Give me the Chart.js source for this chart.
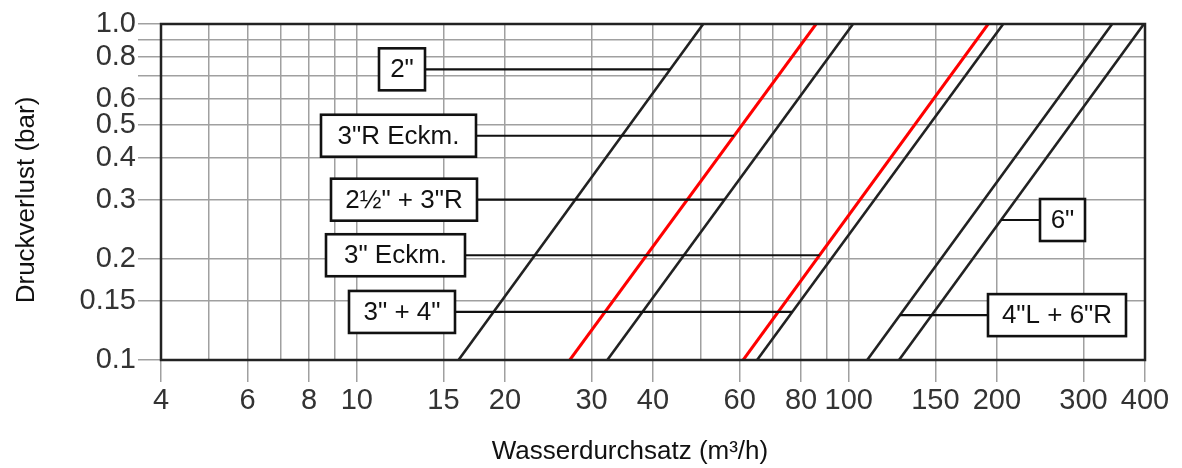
<!DOCTYPE html>
<html>
<head>
<meta charset="utf-8">
<script src="https://cdn.jsdelivr.net/npm/chart.js@4.4.1/dist/chart.umd.min.js"></script>
<style>
  html, body { margin: 0; padding: 0; background: #fff; }
</style>
</head>
<body>
<canvas id="chart" width="1182" height="468"></canvas>
<script>
// Pipe sizes, in the order the lines appear from left to right
const seriesNames = ['2"', '3"R Eckm.', '2½" + 3"R', '3" Eckm.', '3" + 4"', '4"L + 6"R', '6"'];
// flow (m³/h) where each line meets 0.1 bar and 1.0 bar
const flowAtLow = [16.1, 27.1, 32.3, 61.0, 65.1, 109, 126.5];
const flowAtHigh = [50.6, 85.8, 102, 192, 206, 343, 398];
const pressureRange = [0.1, 1.0];
const seriesColors = ['#222', '#f00', '#222', '#f00', '#222', '#222', '#222'];

// grid and tick labels
const xGrid = [4, 5, 6, 7, 8, 9, 10, 15, 20, 30, 40, 50, 60, 70, 80, 90, 100, 150, 200, 300, 400];
const xLabels = [4, 6, 8, 10, 15, 20, 30, 40, 60, 80, 100, 150, 200, 300, 400];
const yGrid = [0.1, 0.15, 0.2, 0.3, 0.4, 0.5, 0.6, 0.7, 0.8, 0.9, 1.0];
const yLabels = [0.1, 0.15, 0.2, 0.3, 0.4, 0.5, 0.6, 0.8, 1.0];

// label boxes: which line, pressure of the leader, box left edge / width in px
const callouts = [
  { series: 0, at: 0.733, left: 379, width: 46 },
  { series: 1, at: 0.465, left: 321, width: 155 },
  { series: 2, at: 0.30, left: 331, width: 146 },
  { series: 3, at: 0.205, left: 326, width: 139 },
  { series: 4, at: 0.139, left: 349, width: 106 },
  { series: 6, at: 0.261, left: 1040, width: 45 },
  { series: 5, at: 0.136, left: 988, width: 138 }
];

const GRID = '#a0a0a0';
const FONT = '"Liberation Sans", Arial, sans-serif';

const datasets = seriesNames.map((name, i) => ({
  label: name,
  data: [
    { x: flowAtLow[i], y: pressureRange[0] },
    { x: flowAtHigh[i], y: pressureRange[1] }
  ],
  borderColor: seriesColors[i],
  borderWidth: seriesColors[i] === '#f00' ? 3 : 2.6,
  pointRadius: 0,
  fill: false
}));

const overlay = {
  id: 'overlay',
  afterDatasetsDraw(chart) {
    const { ctx, chartArea: a, scales: { x, y } } = chart;
    ctx.save();
    ctx.strokeStyle = '#222';
    ctx.lineWidth = 2.5;
    ctx.strokeRect(a.left, a.top, a.right - a.left, a.bottom - a.top);

    const lp0 = Math.log10(pressureRange[0]), lp1 = Math.log10(pressureRange[1]);
    ctx.font = '26px ' + FONT;
    ctx.textAlign = 'center';
    ctx.textBaseline = 'middle';
    callouts.forEach(c => {
      const t = (Math.log10(c.at) - lp0) / (lp1 - lp0);
      const l0 = Math.log10(flowAtLow[c.series]), l1 = Math.log10(flowAtHigh[c.series]);
      const px = x.getPixelForValue(Math.pow(10, l0 + t * (l1 - l0)));
      const py = y.getPixelForValue(c.at);
      const bh = 42;
      const edge = c.left > px ? c.left : c.left + c.width;
      ctx.strokeStyle = '#111';
      ctx.lineWidth = 2.2;
      ctx.beginPath();
      ctx.moveTo(edge, py);
      ctx.lineTo(px, py);
      ctx.stroke();
      ctx.fillStyle = '#fff';
      ctx.fillRect(c.left, py - bh / 2, c.width, bh);
      ctx.lineWidth = 2.6;
      ctx.strokeRect(c.left, py - bh / 2, c.width, bh);
      ctx.fillStyle = '#111';
      ctx.fillText(seriesNames[c.series], c.left + c.width / 2, py + 1);
    });

    // axis titles
    ctx.font = '26px ' + FONT;
    ctx.fillStyle = '#111';
    ctx.fillText('Wasserdurchsatz (m³/h)', 630, 452);
    ctx.translate(27, 200);
    ctx.rotate(-Math.PI / 2);
    ctx.fillText('Druckverlust (bar)', 0, 0);
    ctx.restore();
  }
};

new Chart(document.getElementById('chart').getContext('2d'), {
  type: 'line',
  data: { datasets },
  options: {
    responsive: false,
    animation: false,
    layout: { padding: { left: 0, top: 24, right: 37, bottom: 0 } },
    plugins: { legend: { display: false }, tooltip: { enabled: false } },
    scales: {
      x: {
        type: 'logarithmic',
        min: 4,
        max: 400,
        afterBuildTicks: s => { s.ticks = xGrid.map(v => ({ value: v })); },
        afterFit: s => { s.height = 108; },
        ticks: {
          autoSkip: false,
          maxRotation: 0,
          padding: 2,
          color: '#333',
          font: { size: 29, family: FONT },
          callback: v => xLabels.includes(v) ? String(v) : ''
        },
        grid: {
          color: GRID,
          lineWidth: 1.5,
          tickLength: 22,
          tickColor: c => xLabels.includes(c.tick.value) ? GRID : 'rgba(0,0,0,0)'
        },
        border: { display: false }
      },
      y: {
        type: 'logarithmic',
        min: 0.1,
        max: 1,
        afterBuildTicks: s => { s.ticks = yGrid.map(v => ({ value: v })); },
        afterFit: s => { s.width = 161; },
        ticks: {
          autoSkip: false,
          padding: 2,
          color: '#333',
          font: { size: 29, family: FONT },
          callback: v => yLabels.includes(v) ? (v === 1 ? '1.0' : String(v)) : ''
        },
        grid: { color: GRID, lineWidth: 1.5, tickLength: 23 },
        border: { display: false }
      }
    }
  },
  plugins: [overlay]
});
</script>
</body>
</html>
